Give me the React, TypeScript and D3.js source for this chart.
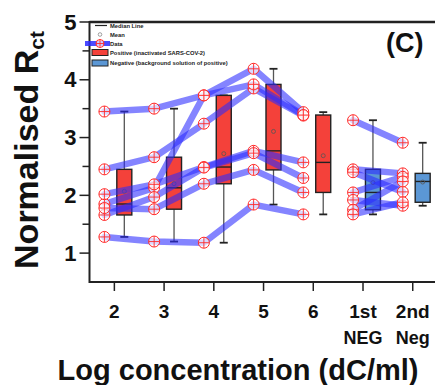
import React from "react";
import * as d3 from "d3";

// ---------- data ----------
const categories = ["2", "3", "4", "5", "6", "1st", "2nd"];
const subLabels = ["", "", "", "", "", "NEG", "Neg"];
const yTickValues = [1, 2, 3, 4, 5];
const yMinorValues = [1.5, 2.5, 3.5, 4.5];

// positive samples (inactivated SARS-COV-2), values at log conc 2,3,4,5,6
const posLines: number[][] = [
  [3.45, 3.5, 3.73, 4.19, 3.44],
  [2.45, 2.66, 3.24, 3.85, 3.38],
  [1.85, 2.13, 3.73, 3.92, 3.39],
  [2.02, 2.19, 2.49, 2.77, 2.57],
  [1.66, 1.97, 2.48, 2.73, 2.3],
  [1.78, 1.76, 2.2, 2.44, 2.05],
  [1.28, 1.2, 1.18, 1.84, 1.67],
];
// negative samples (background solution), values at 1st, 2nd
const negLines: number[][] = [
  [3.3, 2.91],
  [2.45, 2.38],
  [2.4, 2.06],
  [2.05, 2.32],
  [1.92, 1.82],
  [1.75, 2.24],
  [1.67, 1.88],
];

const legendLabels = [
  "Median Line",
  "Mean",
  "Data",
  "Positive (inactivated SARS-COV-2)",
  "Negative (background solution of positive)",
];

// ---------- styles ----------
const FONT = "'Liberation Sans', Arial, Helvetica, sans-serif";
const RED = "#f4413a";
const BLUE_BOX = "#5b97d5";
const LINE_BLUE = "#2b2bff";
const MARK_RED = "#ff2a2a";

function rankQuantile(sorted: number[], p: number) {
  const n = sorted.length;
  const r = (n + 1) * p;
  const lo = Math.max(1, Math.min(n, Math.floor(r)));
  const hi = Math.max(1, Math.min(n, Math.ceil(r)));
  const f = r - Math.floor(r);
  return sorted[lo - 1] + (sorted[hi - 1] - sorted[lo - 1]) * f;
}

function boxStats(vals: number[]) {
  const s = vals.slice().sort((a, b) => a - b);
  return {
    min: s[0],
    max: s[s.length - 1],
    q1: rankQuantile(s, 0.25),
    med: rankQuantile(s, 0.5),
    q3: rankQuantile(s, 0.75),
    mean: d3.mean(s) as number,
  };
}

const Marker = ({ cx, cy, r = 5.5 }: { cx: number; cy: number; r?: number }) => (
  <g>
    <circle cx={cx} cy={cy} r={r} fill="#fff" fillOpacity={0.7} stroke={MARK_RED} strokeWidth={1} />
    <line x1={cx - r} x2={cx + r} y1={cy} y2={cy} stroke={MARK_RED} strokeWidth={0.9} />
    <line x1={cx} x2={cx} y1={cy - r} y2={cy + r} stroke={MARK_RED} strokeWidth={0.9} />
  </g>
);

export default function App() {
  const W = 435;
  const H = 385;
  const x = d3.scaleLinear().domain([-0.5, 6.5]).range([89.5, 437.6]);
  const y = d3.scaleLinear().domain([0.5, 5]).range([282, 22]);
  const ptOff = -0.2;
  const boxOff = 0.2;
  const boxW = 15;

  const groups: { idx: number; vals: number[]; pos: boolean }[] = [];
  for (let i = 0; i < 5; i++) groups.push({ idx: i, vals: posLines.map((l) => l[i]), pos: true });
  for (let i = 0; i < 2; i++) groups.push({ idx: 5 + i, vals: negLines.map((l) => l[i]), pos: false });

  const line = d3
    .line<[number, number]>()
    .x((d) => x(d[0] + ptOff))
    .y((d) => y(d[1]));

  const plotLeft = x(-0.5);
  const plotRight = W;

  return (
    <svg
      width={W}
      height={H}
      style={{ position: "absolute", left: 0, top: 0, background: "#fff" }}
      fontFamily={FONT}
    >
      <rect width={W} height={H} fill="#fff" />

      {/* boxes */}
      {groups.map((g) => {
        const s = boxStats(g.vals);
        const cx = x(g.idx + boxOff);
        return (
          <g key={"b" + g.idx}>
            <line x1={cx} x2={cx} y1={y(s.q3)} y2={y(s.max)} stroke="#555" strokeWidth={1.3} />
            <line x1={cx} x2={cx} y1={y(s.q1)} y2={y(s.min)} stroke="#555" strokeWidth={1.3} />
            <line x1={cx - 4} x2={cx + 4} y1={y(s.max)} y2={y(s.max)} stroke="#222" strokeWidth={1.8} />
            <line x1={cx - 4} x2={cx + 4} y1={y(s.min)} y2={y(s.min)} stroke="#222" strokeWidth={1.8} />
            <rect
              x={cx - boxW / 2}
              y={y(s.q3)}
              width={boxW}
              height={y(s.q1) - y(s.q3)}
              fill={g.pos ? RED : BLUE_BOX}
              stroke="#222"
              strokeWidth={1.4}
            />
            <line x1={cx - boxW / 2} x2={cx + boxW / 2} y1={y(s.med)} y2={y(s.med)} stroke="#222" strokeWidth={1.4} />
            <circle cx={cx} cy={y(s.mean)} r={2} fill="none" stroke="#555" strokeWidth={0.8} />
          </g>
        );
      })}

      {/* data lines */}
      {posLines.map((l, i) => (
        <path
          key={"pl" + i}
          d={line(l.map((v, j) => [j, v] as [number, number])) || ""}
          fill="none"
          stroke={LINE_BLUE}
          strokeOpacity={0.58}
          strokeWidth={6.5}
          strokeLinecap="round"
          strokeLinejoin="round"
        />
      ))}
      {negLines.map((l, i) => (
        <path
          key={"nl" + i}
          d={line(l.map((v, j) => [5 + j, v] as [number, number])) || ""}
          fill="none"
          stroke={LINE_BLUE}
          strokeOpacity={0.58}
          strokeWidth={6.5}
          strokeLinecap="round"
          strokeLinejoin="round"
        />
      ))}

      {/* markers */}
      {posLines.map((l, i) =>
        l.map((v, j) => <Marker key={`pm${i}-${j}`} cx={x(j + ptOff)} cy={y(v)} />)
      )}
      {negLines.map((l, i) =>
        l.map((v, j) => <Marker key={`nm${i}-${j}`} cx={x(5 + j + ptOff)} cy={y(v)} />)
      )}

      {/* axes */}
      <line x1={plotLeft} x2={plotRight} y1={22} y2={22} stroke="#222" strokeWidth={2.5} />
      <line x1={plotLeft} x2={plotRight} y1={y(0.5)} y2={y(0.5)} stroke="#222" strokeWidth={2} />
      <line x1={plotLeft} x2={plotLeft} y1={21} y2={y(0.5) + 1} stroke="#222" strokeWidth={2} />

      {yTickValues.map((t) => (
        <g key={"yt" + t}>
          <line x1={plotLeft - 10} x2={plotLeft} y1={y(t)} y2={y(t)} stroke="#222" strokeWidth={1.5} />
          <text
            x={plotLeft - 13}
            y={y(t)}
            textAnchor="end"
            dominantBaseline="central"
            fontSize={22}
            fontWeight="bold"
            fill="#111"
          >
            {t}
          </text>
        </g>
      ))}
      {yMinorValues.map((t) => (
        <line key={"ym" + t} x1={plotLeft - 7} x2={plotLeft} y1={y(t)} y2={y(t)} stroke="#222" strokeWidth={1.5} />
      ))}

      {categories.map((c, i) => (
        <g key={"xt" + i}>
          <line x1={x(i)} x2={x(i)} y1={y(0.5)} y2={y(0.5) + 9} stroke="#222" strokeWidth={1.5} />
          <text x={x(i)} y={318} textAnchor="middle" fontSize={19} fontWeight="bold" fill="#111">
            {c}
          </text>
          {subLabels[i] && (
            <text x={x(i)} y={344} textAnchor="middle" fontSize={18} fontWeight="bold" fill="#111">
              {subLabels[i]}
            </text>
          )}
        </g>
      ))}

      {/* axis titles */}
      <text x={238} y={380} textAnchor="middle" fontSize={29} fontWeight="bold" fill="#111">
        Log concentration (dC/ml)
      </text>
      <text
        transform={`translate(38, 150) rotate(-90)`}
        textAnchor="middle"
        fontSize={34}
        fontWeight="bold"
        fill="#111"
      >
        Normalised R
        <tspan fontSize={21} dy={6}>
          ct
        </tspan>
      </text>

      {/* panel label */}
      <text x={386} y={52} fontSize={27} fontWeight="bold" fill="#111">
        (C)
      </text>

      {/* legend */}
      <g fontSize={5.8} fontWeight="bold" fill="#222">
        <line x1={95} x2={107} y1={25.5} y2={25.5} stroke="#222" strokeWidth={1.2} />
        <circle cx={100} cy={34.5} r={1.8} fill="none" stroke="#888" strokeWidth={0.8} />
        <line x1={85} x2={110} y1={43.5} y2={43.5} stroke={LINE_BLUE} strokeOpacity={0.85} strokeWidth={5} />
        <Marker cx={100} cy={43.5} r={4} />
        <rect x={92} y={49.5} width={16} height={6} fill={RED} stroke="#222" strokeWidth={1} />
        <rect x={92} y={60} width={16} height={6} fill={BLUE_BOX} stroke="#222" strokeWidth={1} />
        {legendLabels.map((l, i) => (
          <text key={"lg" + i} x={110} y={[25.5, 34.5, 43.5, 52.5, 63][i]} dominantBaseline="central">
            {l}
          </text>
        ))}
      </g>
    </svg>
  );
}
